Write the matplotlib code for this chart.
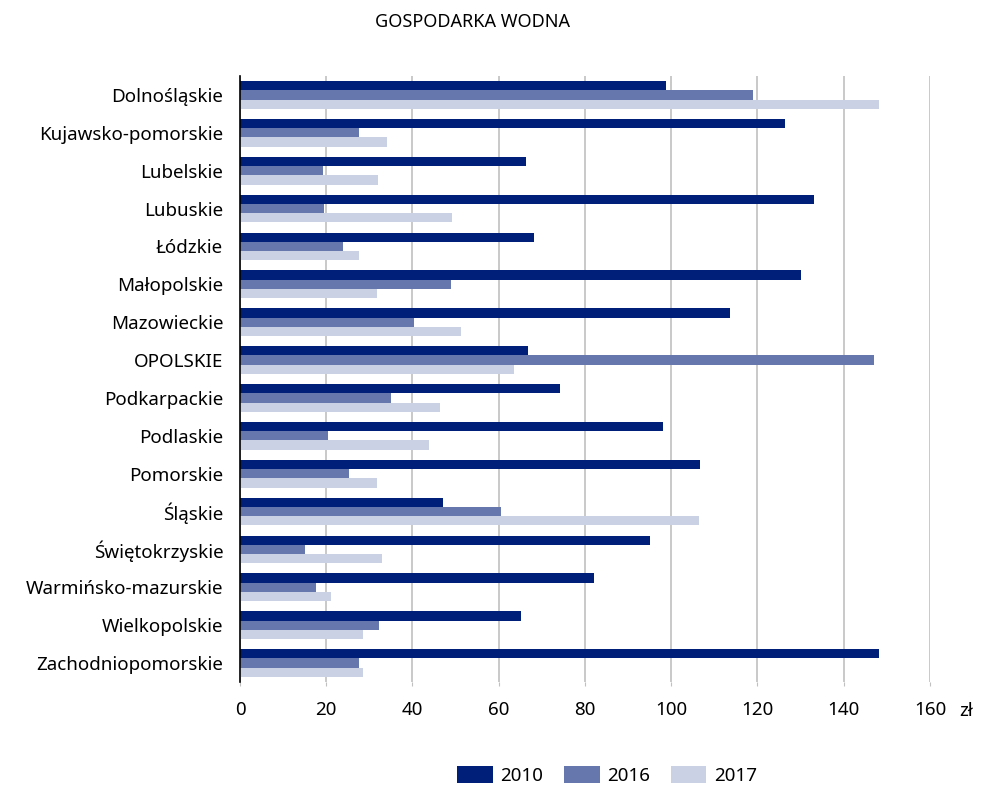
import numpy as np
import matplotlib
matplotlib.use("Agg")
import matplotlib.pyplot as plt

plt.rcParams['font.family'] = ['Noto Sans', 'DejaVu Sans']

# Dane
regiony = ['Dolnośląskie', 'Kujawsko-pomorskie', 'Lubelskie', 'Lubuskie', 'Łódzkie',
           'Małopolskie', 'Mazowieckie', 'OPOLSKIE', 'Podkarpackie', 'Podlaskie',
           'Pomorskie', 'Śląskie', 'Świętokrzyskie', 'Warmińsko-mazurskie',
           'Wielkopolskie', 'Zachodniopomorskie']
lata = ['2010', '2016', '2017']
w2010 = [98.8, 126.4, 66.4, 133.1, 68.2, 130.0, 113.6, 66.7, 74.2, 98.0,
         106.7, 47.1, 95.1, 82.0, 65.2, 148.2]
w2016 = [119.0, 27.7, 19.2, 19.4, 24.0, 48.9, 40.4, 147.1, 35.1, 20.5,
         25.2, 60.6, 15.1, 17.7, 32.3, 27.6]
w2017 = [148.2, 34.0, 32.0, 49.2, 27.6, 31.8, 51.3, 63.6, 46.4, 43.9,
         31.8, 106.5, 33.0, 21.1, 28.6, 28.6]
kolory = ['#001f78', '#6677ad', '#cbd1e4']

fig = plt.figure(figsize=(9.81, 7.85), dpi=100)
ax = fig.add_axes([0.2446, 0.1312, 0.7034, 0.7720])

y = np.arange(len(regiony))
h = 0.245
for i, (dane, rok) in enumerate(zip([w2010, w2016, w2017], lata)):
    ax.barh(y + (i - 1) * h, dane, height=h, color=kolory[i], label=rok, zorder=3)

ax.set_xlim(0, 160)
ax.set_ylim(15.5, -0.5)
ax.set_xticks(np.arange(0, 161, 20))
ax.set_yticks(y)
ax.set_yticklabels(regiony, fontsize=13.5)
ax.tick_params(axis='x', labelsize=13.5, length=3, color='#c0c0c0', pad=11)
ax.tick_params(axis='y', length=0, pad=12)
ax.grid(axis='x', color='#c0c0c0', linewidth=1.2, zorder=0)
for s in ['top', 'right', 'bottom']:
    ax.spines[s].set_visible(False)
ax.spines['left'].set_color('black')
ax.spines['left'].set_linewidth(1.2)
ax.spines['left'].set_zorder(4)

fig.text(0.992, 0.088, 'zł', fontsize=13.5, ha='right')
fig.text(0.482, 0.972, 'GOSPODARKA WODNA', fontsize=13, ha='center', va='center')

fig.legend(loc='center', bbox_to_anchor=(0.619, 0.012), ncol=3, frameon=False,
           fontsize=13.5, handlelength=1.9, handleheight=1.0, handletextpad=0.4,
           columnspacing=1.1)

fig.savefig('out.png', dpi=100)
